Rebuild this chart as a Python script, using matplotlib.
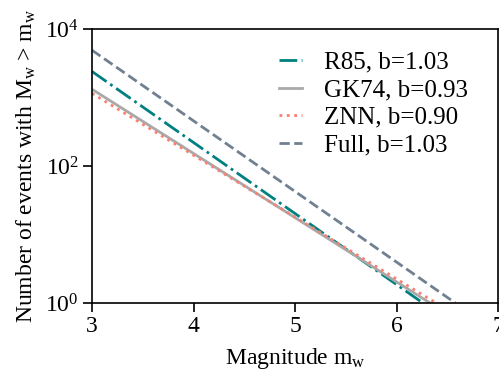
import matplotlib
matplotlib.use("Agg")
import matplotlib.pyplot as plt
import numpy as np

plt.rcParams['font.family'] = ['Liberation Serif', 'DejaVu Serif']
plt.rcParams['mathtext.fontset'] = 'custom'
plt.rcParams['mathtext.rm'] = 'Liberation Serif'
plt.rcParams['mathtext.it'] = 'Liberation Serif:italic'

# Data: magnitude endpoints and counts
labels = ["R85, b=1.03", "GK74, b=0.93", "ZNN, b=0.90", "Full, b=1.03"]
mags = [[3.0, 6.26], [3.0, 6.33], [3.0, 6.39], [3.0, 6.58]]
counts = [[2400, 1.0], [1320, 1.0], [1150, 1.0], [4900, 1.0]]
colors = ["#008080", "#a9a9a9", "#fa8072", "#708090"]
styles = ["-.", "-", ":", "--"]

xticks = [3, 4, 5, 6, 7]
yticks = [1, 100, 10000]

fig = plt.figure(figsize=(4.99, 3.73), dpi=100)
ax = fig.add_axes([92/499, 1-303/373, 406/499, 274/373])

for m, n, c, s, lab in zip(mags, counts, colors, styles, labels):
    ax.plot(m, n, color=c, linestyle=s, linewidth=2.0, label=lab)

ax.set_yscale('log')
ax.set_xlim(3, 7)
ax.set_ylim(1, 10000)
ax.set_xticks(xticks)
ax.set_yticks(yticks)
ax.yaxis.set_minor_locator(matplotlib.ticker.NullLocator())
ax.set_yticklabels([r"$10^{0}$", r"$10^{2}$", r"$10^{4}$"])

for sp in ax.spines.values():
    sp.set_linewidth(1.2)
ax.tick_params(axis='both', which='major', length=6.5, width=1.2, labelsize=17, pad=3)

ax.set_xlabel(r"Magnitude m$_\mathrm{w}$", fontsize=17, labelpad=6)
ax.set_ylabel(r"Number of events with M$_\mathrm{w}$ > m$_\mathrm{w}$", fontsize=17, labelpad=5)

leg = ax.legend(loc='upper left', frameon=False, fontsize=18, handlelength=0.9,
                handletextpad=0.9, labelspacing=0.2, borderaxespad=0,
                bbox_to_anchor=(0.436, 0.955))

fig.savefig("out.png", dpi=100)
